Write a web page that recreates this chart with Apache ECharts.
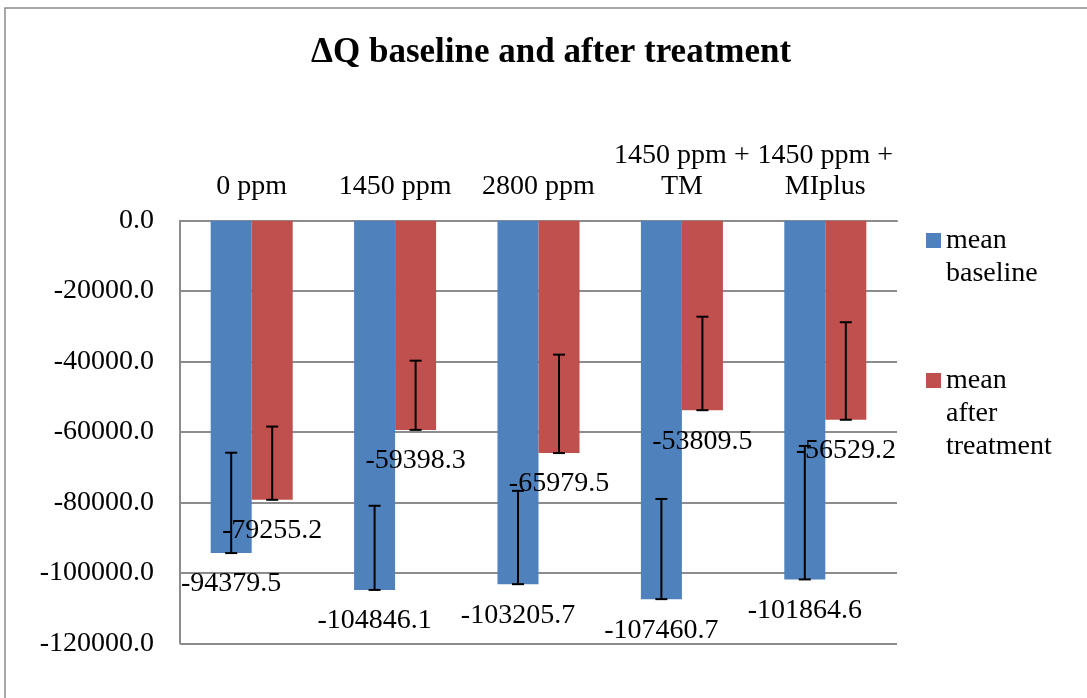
<!DOCTYPE html>
<html>
<head>
<meta charset="utf-8">
<script src="https://cdn.jsdelivr.net/npm/echarts@6/dist/echarts.min.js"></script>
<style>html,body{margin:0;padding:0;background:#fff;}#c{width:1087px;height:698px;}</style>
</head>
<body>
<div id="c"></div>
<script>
const categories = ['0 ppm', '1450 ppm', '2800 ppm', '1450 ppm +\nTM', '1450 ppm +\nMIplus'];
const meanBaseline = [-94379.5, -104846.1, -103205.7, -107460.7, -101864.6];
const meanAfter = [-79255.2, -59398.3, -65979.5, -53809.5, -56529.2];
const errBaseline = [28500, 23900, 26500, 28450, 37900];
const errAfter = [20800, 19650, 27950, 26550, 27700];
const yTicks = { min: -120000, max: 0, interval: 20000 };

const FONT = '"Liberation Serif", "Times New Roman", serif';
const BAR_FRAC = 0.286;

function errSeries(values, errs, side) {
  return {
    type: 'custom',
    z: 5,
    silent: true,
    data: values.map((v, i) => [i, v, errs[i]]),
    renderItem: function (params, api) {
      const cat = api.value(0), v = api.value(1), e = api.value(2);
      const p1 = api.coord([cat, v]);
      const p2 = api.coord([cat, v + e]);
      const bw = api.size([1, 0])[0] * BAR_FRAC;
      const x = p1[0] + side * bw / 2;
      const cap = 6;
      const style = { stroke: '#000', lineWidth: 2 };
      return {
        type: 'group',
        children: [
          { type: 'line', shape: { x1: x, y1: p1[1], x2: x, y2: p2[1] }, style },
          { type: 'line', shape: { x1: x - cap, y1: p1[1], x2: x + cap, y2: p1[1] }, style },
          { type: 'line', shape: { x1: x - cap, y1: p2[1], x2: x + cap, y2: p2[1] }, style }
        ]
      };
    }
  };
}

const labelStyle = {
  show: true,
  position: 'bottom',
  distance: 17,
  color: '#000',
  fontFamily: FONT,
  fontSize: 28,
  formatter: p => p.value.toFixed(1)
};

// legend text wraps one word per line; leading blank lines keep the first line level with the swatch
function legendText(name) {
  const words = name.split(' ');
  return '\n'.repeat(words.length - 1) + words.join('\n');
}

const chart = echarts.init(document.getElementById('c'), null, { renderer: 'canvas' });
chart.setOption({
  backgroundColor: '#fff',
  animation: false,
  textStyle: { fontFamily: FONT },
  graphic: [{
    type: 'rect',
    shape: { x: 5, y: 8, width: 1100, height: 720 },
    style: { fill: 'none', stroke: '#8c8c8c', lineWidth: 1.5 },
    silent: true, z: -10
  }],
  title: {
    text: '\u0394Q baseline and after treatment',
    left: 306,
    top: 30,
    textStyle: { fontFamily: FONT, fontSize: 35, fontWeight: 'bold', color: '#000' }
  },
  legend: {
    orient: 'vertical',
    left: 926,
    top: 191,
    padding: 0,
    itemWidth: 15,
    itemHeight: 15,
    itemGap: 8,
    icon: 'rect',
    formatter: legendText,
    textStyle: { fontFamily: FONT, fontSize: 28, lineHeight: 33, color: '#000' },
    data: ['mean baseline', 'mean after treatment']
  },
  grid: { left: 180, right: 190, top: 220.7, bottom: 54.7, containLabel: false },
  xAxis: {
    type: 'category',
    position: 'top',
    data: categories,
    axisLine: { show: true, onZero: false, lineStyle: { color: '#8c8c8c', width: 2 } },
    axisTick: { show: false },
    axisLabel: {
      interval: 0,
      margin: 19,
      color: '#000',
      fontFamily: FONT,
      fontSize: 28,
      lineHeight: 31
    }
  },
  yAxis: {
    type: 'value',
    min: yTicks.min,
    max: yTicks.max,
    interval: yTicks.interval,
    axisLine: { show: true, lineStyle: { color: '#8c8c8c', width: 2 } },
    axisTick: { show: false },
    splitLine: { show: true, lineStyle: { color: '#8c8c8c', width: 2 } },
    axisLabel: {
      margin: 26,
      color: '#000',
      fontFamily: FONT,
      fontSize: 28,
      formatter: v => v.toFixed(1)
    }
  },
  series: [
    {
      name: 'mean baseline',
      type: 'bar',
      data: meanBaseline,
      barWidth: (BAR_FRAC * 100) + '%',
      barGap: '0%',
      itemStyle: { color: '#4F81BD' },
      label: labelStyle,
      z: 2
    },
    {
      name: 'mean after treatment',
      type: 'bar',
      data: meanAfter,
      barWidth: (BAR_FRAC * 100) + '%',
      barGap: '0%',
      itemStyle: { color: '#C0504D' },
      label: labelStyle,
      z: 2
    },
    errSeries(meanBaseline, errBaseline, -1),
    errSeries(meanAfter, errAfter, 1)
  ]
});
</script>
</body>
</html>
